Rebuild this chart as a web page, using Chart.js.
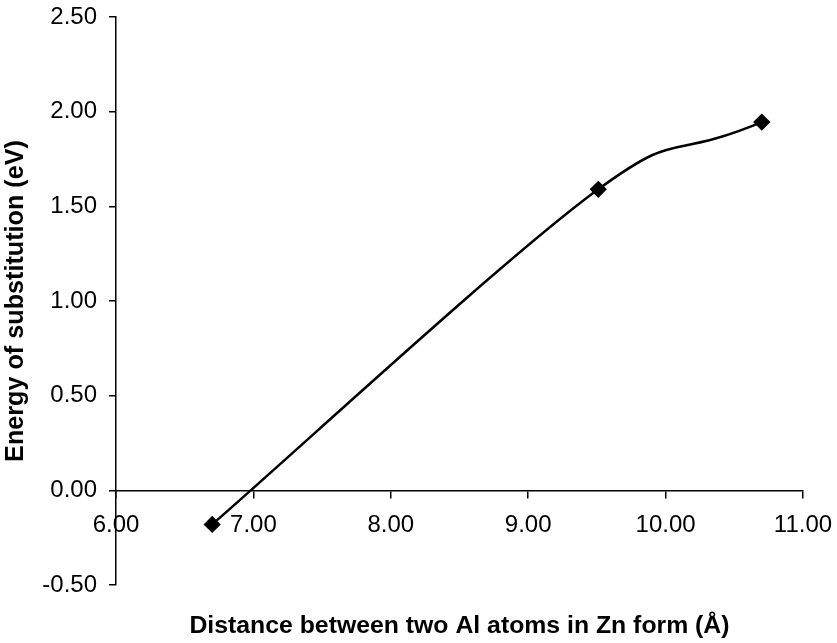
<!DOCTYPE html>
<html>
<head>
<meta charset="utf-8">
<script src="https://cdn.jsdelivr.net/npm/chart.js@4/dist/chart.umd.min.js"></script>
<style>
  html, body { margin: 0; padding: 0; background: #ffffff; }
  #wrap { width: 837px; height: 643px; position: relative; }
</style>
</head>
<body>
<div id="wrap"><canvas id="c" width="837" height="643"></canvas></div>
<script>
// Data
const distances = [6.70, 9.51, 10.70];        // Å
const energies  = [-0.18, 1.59, 1.945];       // eV
const xTitle = 'Distance between two Al atoms in Zn form (Å)';
const yTitle = 'Energy of substitution (eV)';
const xRange = [6, 11];
const yRange = [-0.5, 2.5];

const points = distances.map((d, i) => ({ x: d, y: energies[i] }));
const FONT = "'Liberation Sans', Arial, Helvetica, sans-serif";

// Excel-like smoothed line: same points drawn with a tension suited to each segment
// (first segment from the low-tension copy, second segment from the high-tension copy)
const lastSeg = points.length - 2;
new Chart(document.getElementById('c'), {
  type: 'line',
  data: {
    datasets: [{
      data: points,
      borderColor: '#000',
      borderWidth: 2.5,
      tension: 0.225,
      segment: { borderColor: ctx => ctx.p0DataIndex === lastSeg ? 'rgba(0,0,0,0)' : '#000' },
      pointStyle: 'rectRot',
      pointRadius: 7.6,
      pointBackgroundColor: '#000',
      pointBorderColor: '#000',
      pointBorderWidth: 1.5,
      fill: false
    }, {
      data: points,
      borderColor: '#000',
      borderWidth: 2.5,
      tension: 0.6,
      segment: { borderColor: ctx => ctx.p0DataIndex === lastSeg ? '#000' : 'rgba(0,0,0,0)' },
      pointRadius: 0,
      fill: false
    }]
  },
  options: {
    responsive: false,
    animation: false,
    events: [],
    layout: { padding: { top: 17, right: 34, bottom: 58, left: 0 } },
    plugins: { legend: { display: false }, tooltip: { enabled: false } },
    scales: {
      x: {
        type: 'linear',
        position: { y: 0 },
        min: xRange[0], max: xRange[1],
        ticks: {
          stepSize: 1,
          color: '#000',
          padding: 14,
          font: { family: FONT, size: 24 },
          callback: v => Number(v).toFixed(2)
        },
        grid: { drawOnChartArea: false, drawTicks: true, tickLength: 7, color: '#000', lineWidth: 1.5 },
        border: { display: true, color: '#000', width: 1.5 },
        title: {
          display: true, text: xTitle, color: '#000',
          font: { family: FONT, size: 24.8, weight: 'bold' },
          padding: { top: 57, bottom: 0 }
        },
        afterFit: s => { s.paddingLeft = 0; s.paddingRight = 0; s.paddingTop = 0; s.paddingBottom = 0; }
      },
      y: {
        type: 'linear',
        position: 'left',
        min: yRange[0], max: yRange[1],
        ticks: {
          stepSize: 0.5,
          color: '#000',
          padding: 12,
          font: { family: FONT, size: 24 },
          callback: v => Number(v).toFixed(2)
        },
        grid: { drawOnChartArea: false, drawTicks: true, tickLength: 7, color: '#000', lineWidth: 1.5 },
        border: { display: true, color: '#000', width: 1.5 },
        title: {
          display: true, text: yTitle, color: '#000',
          font: { family: FONT, size: 25.2, weight: 'bold' },
          padding: { top: 1, bottom: 0 }
        },
        afterFit: s => { s.width = 116; s.paddingTop = 0; s.paddingBottom = 0; }
      }
    }
  }
});
</script>
</body>
</html>
